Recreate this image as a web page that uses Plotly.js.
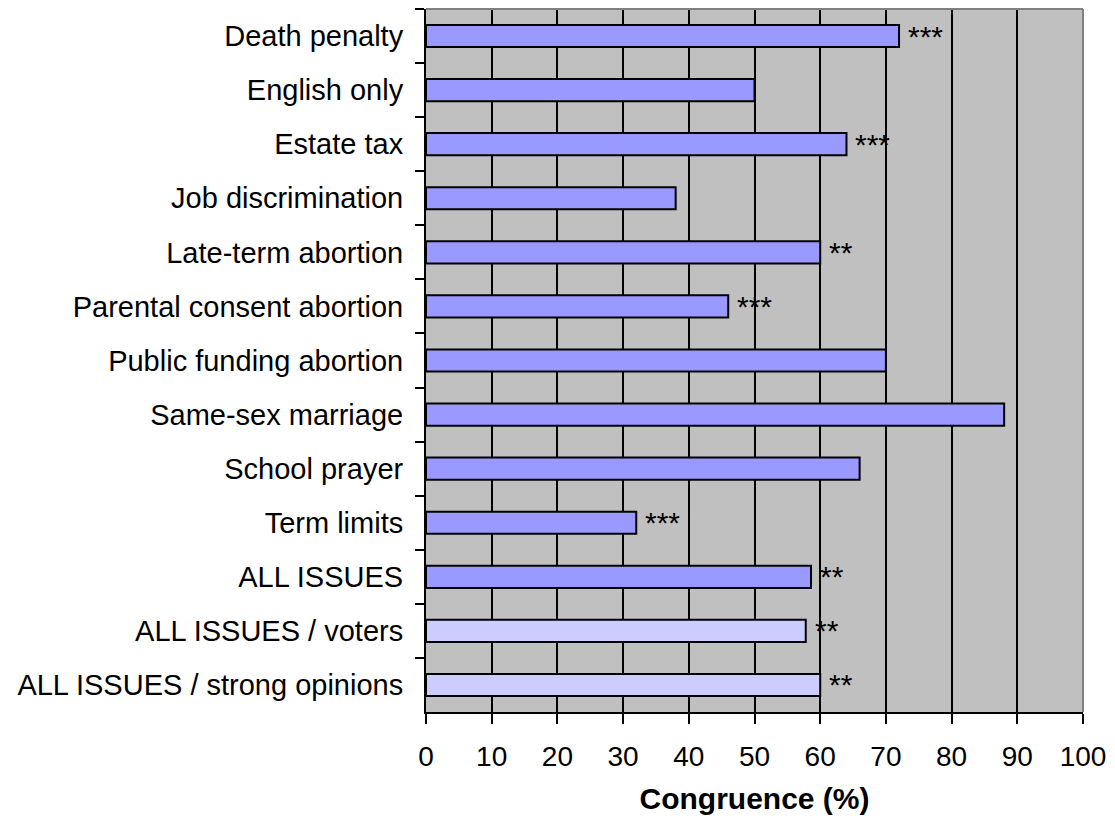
<!DOCTYPE html>
<html>
<head>
<meta charset="utf-8">
<script src="https://cdn.plot.ly/plotly-3.0.1.min.js"></script>
<style>html,body{margin:0;padding:0;background:#fff;}#chart{width:1115px;height:827px;}</style>
</head>
<body>
<div id="chart"></div>
<script>
const categories = ["Death penalty","English only","Estate tax","Job discrimination","Late-term abortion","Parental consent abortion","Public funding abortion","Same-sex marriage","School prayer","Term limits","ALL ISSUES","ALL ISSUES / voters","ALL ISSUES / strong opinions"];
const congruence = [72, 50, 64, 38, 60, 46, 70, 88, 66, 32, 58.6, 57.8, 60];
const significance = ["***","","***","","**","***","","","","***","**","**","**"];
const barColors = ["#9999FF","#9999FF","#9999FF","#9999FF","#9999FF","#9999FF","#9999FF","#9999FF","#9999FF","#9999FF","#9999FF","#CCCCFF","#CCCCFF"];
const xTicks = [0,10,20,30,40,50,60,70,80,90,100];

const trace = {
  type: "bar", orientation: "h",
  x: congruence, y: categories,
  width: 0.41,
  marker: {color: barColors, line: {color: "#000", width: 2}},
  hoverinfo: "x+y"
};

const annotations = [];
categories.forEach((c, i) => {
  if (significance[i]) {
    annotations.push({x: congruence[i], y: c, xref: "x", yref: "y", text: significance[i],
      showarrow: false, xanchor: "left", yanchor: "middle", xshift: 7, yshift: 0,
      font: {family: "Liberation Sans, Arial, sans-serif", size: 30, color: "#000"}});
  }
});

const layout = {
  width: 1115, height: 827,
  margin: {l: 426, r: 32, t: 9, b: 115},
  paper_bgcolor: "#fff", plot_bgcolor: "#C0C0C0",
  showlegend: false, bargap: 0.59,
  font: {family: "Liberation Sans, Arial, sans-serif", color: "#000"},
  xaxis: {
    range: [0, 100], tickvals: xTicks, ticktext: xTicks.map(String),
    showgrid: true, gridcolor: "#000", gridwidth: 2,
    showline: true, linecolor: "#000", linewidth: 2,
    ticks: "outside", ticklen: 10, tickwidth: 2, tickcolor: "#000",
    tickfont: {size: 28}, ticklabelstandoff: 8, zeroline: false,
    title: {text: "<b>Congruence (%)</b>", font: {size: 30}, standoff: 17},
    fixedrange: true
  },
  yaxis: {
    type: "category", autorange: "reversed",
    tickson: "boundaries", ticks: "outside", ticklen: 9, tickwidth: 2, tickcolor: "#000",
    showgrid: false, showline: true, linecolor: "#000", linewidth: 2,
    tickfont: {size: 29}, ticklabelstandoff: 15, fixedrange: true
  },
  shapes: [
    {type: "line", xref: "paper", yref: "paper", x0: 0, x1: 1, y0: 1, y1: 1, line: {color: "#808080", width: 2}, layer: "above"},
    {type: "line", xref: "paper", yref: "paper", x0: 1, x1: 1, y0: 0, y1: 1, line: {color: "#808080", width: 2}, layer: "above"}
  ],
  annotations: annotations
};

Plotly.newPlot("chart", [trace], layout, {displayModeBar: false, staticPlot: true});
</script>
</body>
</html>
